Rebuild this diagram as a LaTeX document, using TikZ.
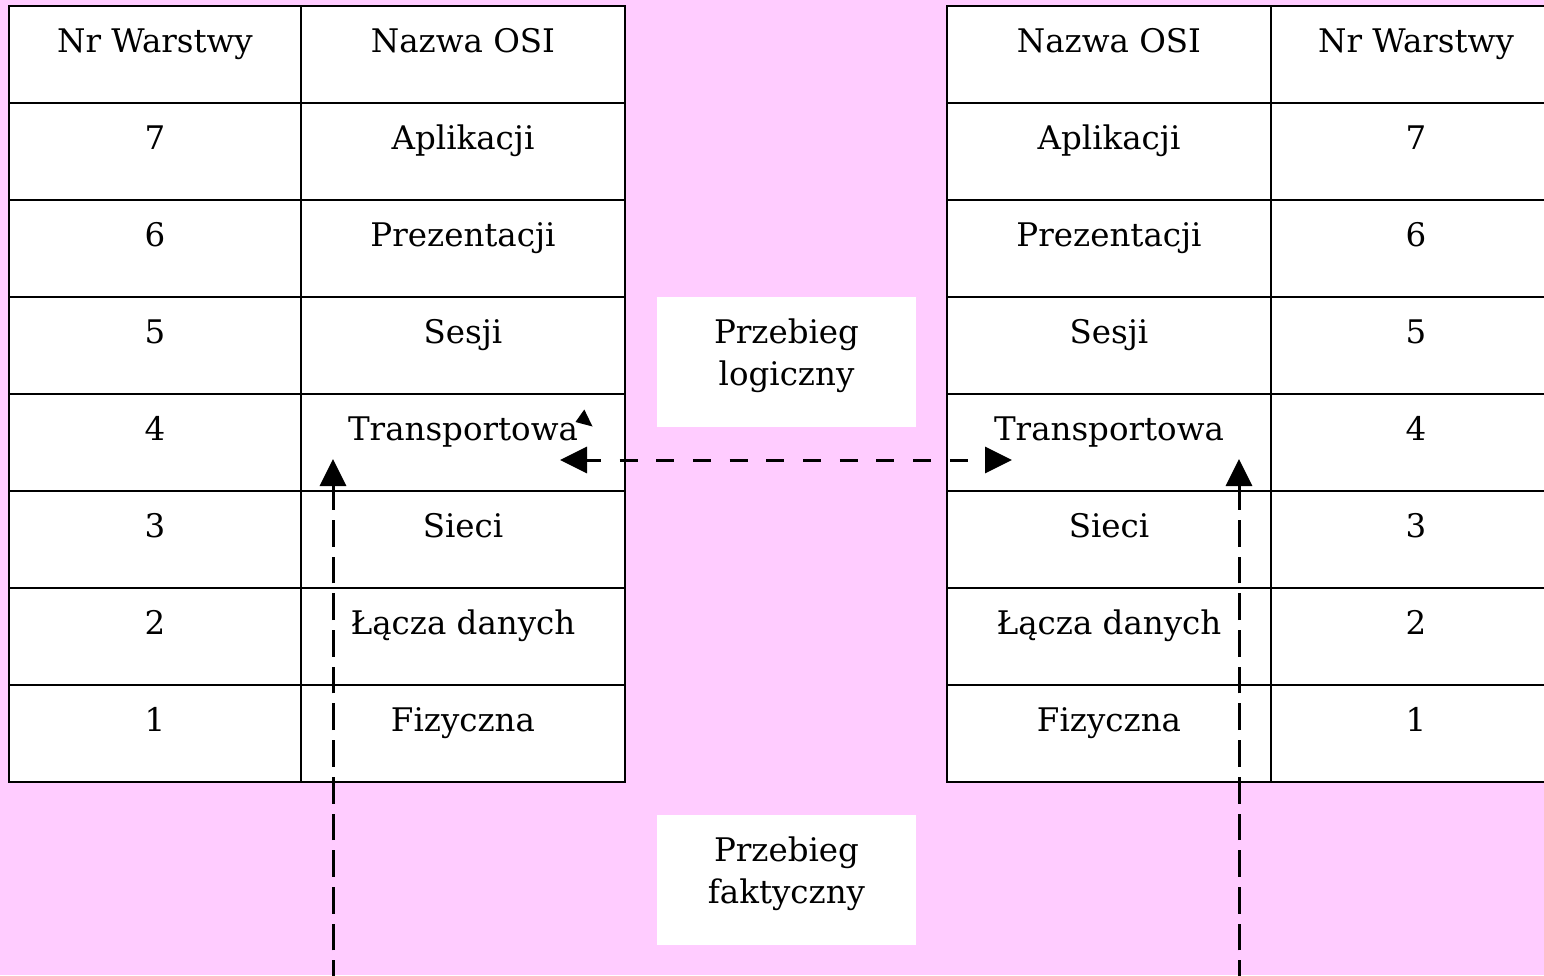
\documentclass[tikz,border=0pt]{standalone}
\usepackage{fontspec}
\setmainfont{DejaVu Serif}
\usetikzlibrary{arrows.meta}
\definecolor{bgpink}{HTML}{FFCCFF}
\begin{document}
\begin{tikzpicture}[x=1pt,y=-1pt,
  cell/.style={draw=black, line width=2pt, fill=white, inner sep=0pt, outer sep=0pt, minimum height=97pt, anchor=north west},
  txt/.style={anchor=base, inner sep=0pt, font=\fontsize{32.5}{42}\selectfont},
  whitebox/.style={fill=white, inner sep=0pt, minimum width=259pt, minimum height=130pt},
  boxtxt/.style={align=center, inner sep=0pt, font=\fontsize{32.5}{42}\selectfont},
  flow/.style={line width=3pt, dash pattern=on 26.7pt off 10pt, -{Triangle[length=27pt,width=26pt]}},
  hflow/.style={line width=3pt, dash pattern=on 18pt off 18.7pt, dash phase=3.4pt, {Triangle[length=27pt,width=26pt]}-{Triangle[length=27pt,width=26pt]}}
]
\path[fill=bgpink, use as bounding box] (0,0) rectangle (1544,975);
\clip (0,0) rectangle (1544,975);
% tables
\foreach \i/\num/\name in {0/{Nr Warstwy}/{Nazwa OSI},1/7/Aplikacji,2/6/Prezentacji,3/5/Sesji,4/4/Transportowa,5/3/Sieci,6/2/{Łącza danych},7/1/Fizyczna}{
  \node[cell, minimum width=292pt] (la\i) at (9,{6+97*\i}) {};
  \node[cell, minimum width=324pt] (lb\i) at (301,{6+97*\i}) {};
  \node[txt] (lat\i) at ([yshift=-46pt]la\i.north) {\num};
  \node[txt] (lbt\i) at ([yshift=-46pt]lb\i.north) {\name};
  \node[cell, minimum width=324pt] (ra\i) at (947,{6+97*\i}) {};
  \node[cell, minimum width=290pt] (rb\i) at (1271,{6+97*\i}) {};
  \node[txt] (rat\i) at ([yshift=-46pt]ra\i.north) {\name};
  \node[txt] (rbt\i) at ([yshift=-46pt]rb\i.north) {\num};
}
% white label boxes
\node[whitebox] (logbox) at (786.5,362) {};
\node[boxtxt] (logtxt) at ([yshift=6.5pt]logbox.center) {Przebieg\\logiczny};
\node[whitebox] (faktbox) at (786.5,880) {};
\node[boxtxt] (fakttxt) at ([yshift=6.5pt]faktbox.center) {Przebieg\\faktyczny};
% stray arrowhead
\fill (584.3,409.5) -- (592.5,426.5) -- (575.5,422) -- cycle;
% arrows
\coordinate (hl) at (560,460);
\coordinate (hr) at (1012,460);
\draw[hflow] (hl) -- (hr);
\coordinate (lb) at (333,987);
\coordinate (lt) at (333,459);
\coordinate (rbot) at (1239,987);
\coordinate (rt) at (1239,459);
\draw[flow] (lb) -- (lt);
\draw[flow] (rbot) -- (rt);
\end{tikzpicture}
\end{document}
